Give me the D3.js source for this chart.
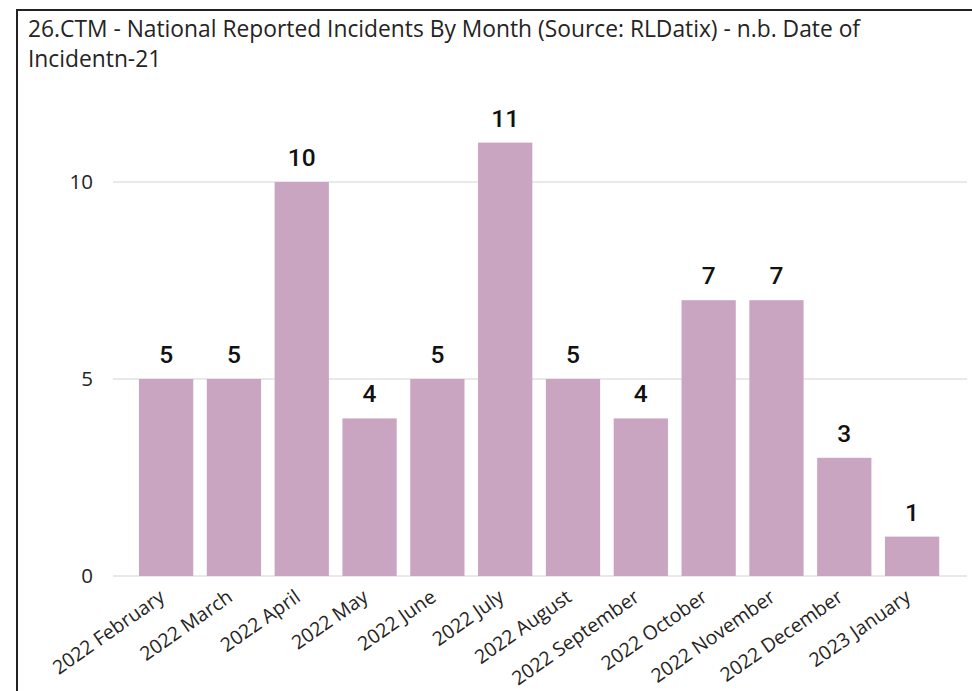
<!DOCTYPE html>
<html>
<head>
<meta charset="utf-8">
<script src="https://cdn.jsdelivr.net/npm/d3@7"></script>
<style>
  html, body { margin: 0; padding: 0; background: #fff; }
  svg { display: block; }
</style>
</head>
<body>
<svg id="chart" width="972" height="691"></svg>
<script>
const categories = ["2022 February","2022 March","2022 April","2022 May","2022 June","2022 July","2022 August","2022 September","2022 October","2022 November","2022 December","2023 January"];
const incidents = [5, 5, 10, 4, 5, 11, 5, 4, 7, 7, 3, 1];
const yTicks = [0, 5, 10];
const titleLines = ["26.CTM - National Reported Incidents By Month (Source: RLDatix) - n.b. Date of", "Incidentn-21"];

const svg = d3.select("#chart");

// frame
svg.append("rect").attr("x", 17).attr("y", 10).attr("width", 980).attr("height", 700)
  .attr("fill", "none").attr("stroke", "#222").attr("stroke-width", 2);

// title
svg.append("g").selectAll("text").data(titleLines).join("text")
  .attr("x", 28).attr("y", (d, i) => 37 + i * 30)
  .attr("font-family", "'Open Sans', 'Noto Sans', sans-serif")
  .attr("font-size", 22.8).attr("fill", "#252423")
  .text(d => d);

const x = d3.scaleBand().domain(categories).range([132.2, 946]).paddingInner(0.2).paddingOuter(0.1);
const y = d3.scaleLinear().domain([0, 10]).range([576, 182]);

// gridlines
svg.append("g").selectAll("line").data(yTicks).join("line")
  .attr("x1", 113).attr("x2", 967)
  .attr("y1", d => y(d)).attr("y2", d => y(d))
  .attr("stroke", "#e9e9e9").attr("stroke-width", 2);

// y axis labels
const yAxis = d3.axisLeft(y).tickValues(yTicks).tickSize(0).tickPadding(0).tickFormat(d3.format("d"));
const gy = svg.append("g").attr("transform", "translate(93,0)").call(yAxis);
gy.select(".domain").remove();
gy.selectAll("text").attr("font-family", "'Open Sans', 'Noto Sans', sans-serif")
  .attr("font-size", 20.5).attr("fill", "#252423").attr("dy", "0.32em");

// bars
svg.append("g").selectAll("rect").data(incidents).join("rect")
  .attr("x", (d, i) => x(categories[i]))
  .attr("y", d => y(d))
  .attr("width", x.bandwidth())
  .attr("height", d => y(0) - y(d))
  .attr("fill", "#C9A5C2");

// value labels
svg.append("g").selectAll("text").data(incidents).join("text")
  .attr("x", (d, i) => x(categories[i]) + x.bandwidth() / 2)
  .attr("y", d => y(d) - 16)
  .attr("text-anchor", "middle")
  .attr("font-family", "Roboto, 'DejaVu Sans', sans-serif")
  .attr("font-weight", 500)
  .attr("font-size", 24.5).attr("fill", "#111")
  .text(d => d);

// x axis labels
const xAxis = d3.axisBottom(x).tickSize(0).tickPadding(0);
const gx = svg.append("g").attr("transform", `translate(0,${y(0)})`).call(xAxis);
gx.select(".domain").remove();
gx.selectAll(".tick text")
  .attr("font-family", "'Open Sans', 'Noto Sans', sans-serif")
  .attr("font-size", 19.5).attr("fill", "#252423")
  .attr("text-anchor", "end")
  .attr("dy", null).attr("y", 0)
  .attr("transform", "translate(0,24) rotate(-35)");
</script>
</body>
</html>
